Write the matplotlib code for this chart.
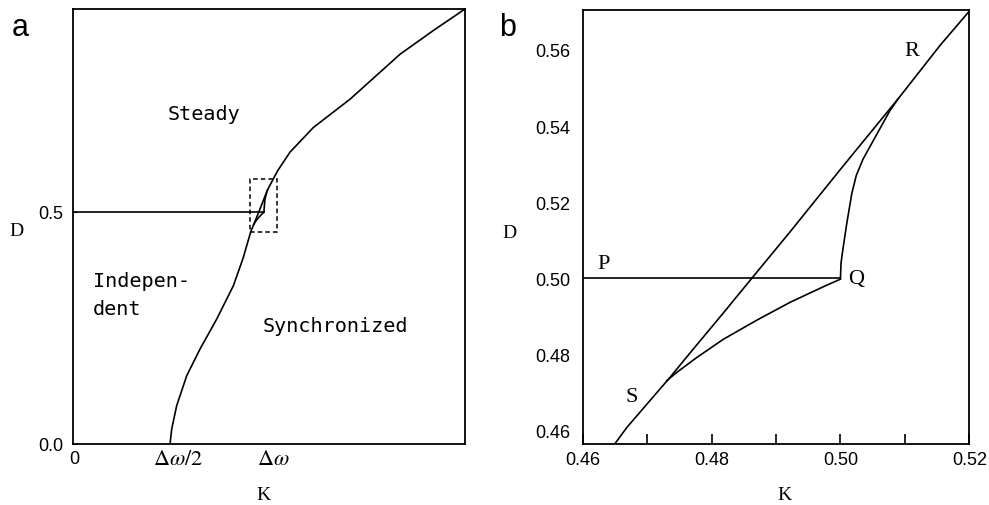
import numpy as np
import matplotlib
matplotlib.use('Agg')
import matplotlib.pyplot as plt
import matplotlib.transforms as mtransforms
from matplotlib.patches import Rectangle

plt.rcParams['mathtext.fontset'] = 'stix'

# ---- data ----
# boundary curve, lower part (panel a only)
k_low = [0.254, 0.2583, 0.2714, 0.2976, 0.3325, 0.376, 0.4197, 0.445]
d_low = [0.0, 0.032, 0.0826, 0.147, 0.2047, 0.269, 0.341, 0.400]

# boundary curve inside the zoomed window (both panels)
k_mid = [0.46475, 0.46683, 0.46993, 0.47355, 0.47665, 0.48182, 0.48623,
         0.49217, 0.49993, 0.50925, 0.51546, 0.52]
d_mid = [0.4560, 0.4608, 0.4669, 0.4740, 0.4804, 0.4909, 0.5000,
         0.5122, 0.5285, 0.5478, 0.5612, 0.5702]

# boundary curve, upper part (panel a only)
k_up = [0.535, 0.568, 0.629, 0.725, 0.856, 0.943, 1.026]
d_up = [0.588, 0.629, 0.682, 0.743, 0.840, 0.891, 0.9375]

# branch Q -> R
k_qr = [0.5000, 0.50009, 0.50035, 0.50097, 0.50175, 0.50245, 0.50350, 0.50510, 0.50769, 0.50898]
d_qr = [0.5000, 0.5040, 0.5073, 0.5143, 0.5222, 0.5270, 0.5313, 0.5362, 0.5441, 0.5472]

# branch Q -> S
k_qs = [0.5000, 0.49734, 0.49217, 0.48700, 0.48182, 0.47769, 0.47459, 0.47304]
d_qs = [0.4998, 0.4978, 0.4937, 0.4890, 0.4840, 0.4792, 0.4753, 0.4731]

# P-Q line
d_pq = 0.5
k_q = 0.5

# zoom window drawn on panel a
box_k = [0.463, 0.535]
box_d = [0.456, 0.570]

# tick labels
a_xticks = [0, 0.25, 0.5]
a_xlabels = ['0', r'$\Delta\omega/2$', r'$\Delta\omega$']
a_yticks = [0.0, 0.5]
b_xticks = [0.46, 0.48, 0.50, 0.52]
b_xminor = [0.47, 0.49, 0.51]
b_yticks = [0.46, 0.48, 0.50, 0.52, 0.54, 0.56]

# point labels in panel b
pt_names = ['P', 'Q', 'R', 'S']
pt_k = [0.4632, 0.5024, 0.5111, 0.4676]
pt_d = [0.5039, 0.4999, 0.5599, 0.4689]

serif = 'Liberation Serif'
sans = 'Liberation Sans'
mono = 'DejaVu Sans Mono'
lw = 1.2

fig = plt.figure(figsize=(9.89, 5.06), dpi=100)
ax1 = fig.add_axes([0.0738, 0.1206, 0.3964, 0.8597])
ax2 = fig.add_axes([0.5892, 0.1206, 0.3909, 0.8577])

for ax in (ax1, ax2):
    for s in ax.spines.values():
        s.set_linewidth(1.3)

# ---- panel a ----
k_all = k_low + k_mid[:-2] + k_up
d_all = d_low + d_mid[:-2] + d_up
ax1.plot(k_all, d_all, color='black', lw=lw)
ax1.plot([0, k_q], [d_pq, d_pq], color='black', lw=lw)
ax1.plot(k_qr, d_qr, color='black', lw=lw)
ax1.plot(k_qs, d_qs, color='black', lw=lw)
ax1.add_patch(Rectangle((box_k[0], box_d[0]), box_k[1] - box_k[0], box_d[1] - box_d[0],
                        fill=False, ls=(0, (3, 2)), lw=1.1, color='black'))
ax1.set_xlim(0, 1.026)
ax1.set_ylim(0, 0.9375)

ax1.set_xticks(a_xticks)
ax1.set_xticklabels(a_xlabels, fontsize=16, family=serif)
ax1.set_xticks([0.5], minor=True)
ax1.tick_params(axis='x', which='major', length=0, pad=4)
ax1.tick_params(axis='x', which='minor', direction='in', length=8, width=1.2)
# shift the delta labels slightly to the right like in the scan
for lab, dx in zip(ax1.get_xticklabels(), [1, 7, 7]):
    lab.set_transform(lab.get_transform() + mtransforms.ScaledTranslation(dx / 72, 0, fig.dpi_scale_trans))
ax1.get_xticklabels()[0].set_fontsize(13)
ax1.get_xticklabels()[0].set_family(sans)

ax1.set_yticks(a_yticks)
ax1.set_yticklabels(['0.0', '0.5'], fontsize=13, family=sans)
ax1.tick_params(axis='y', direction='in', length=3, pad=7)

ax1.set_xlabel('K', fontsize=14, family=serif, va='center')
ax1.xaxis.set_label_coords(0.487, -0.115)
ax1.set_ylabel('D', fontsize=14, family=serif, rotation=0, va='center', ha='center')
ax1.yaxis.set_label_coords(-0.143, 0.49)

ax1.text(0.2487, 0.700, 'Steady', fontsize=14.5, family=mono, va='baseline')
ax1.text(0.052, 0.3405, 'Indepen-', fontsize=14.5, family=mono, va='baseline')
ax1.text(0.052, 0.280, 'dent', fontsize=14.5, family=mono, va='baseline')
ax1.text(0.497, 0.244, 'Synchronized', fontsize=14.5, family=mono, va='baseline')

fig.text(20 / 989, 1 - 28 / 506, 'a', fontsize=22, family=sans, ha='center', va='center')

# ---- panel b ----
ax2.plot(k_mid, d_mid, color='black', lw=lw)
ax2.plot([0.46, k_q], [d_pq, d_pq], color='black', lw=lw)
ax2.plot(k_qr, d_qr, color='black', lw=lw)
ax2.plot(k_qs, d_qs, color='black', lw=lw)
ax2.set_xlim(0.46, 0.52)
ax2.set_ylim(0.4565, 0.5705)

ax2.set_xticks(b_xticks)
ax2.set_xticklabels(['%.2f' % v for v in b_xticks], fontsize=13, family=sans)
ax2.set_xticks(b_xminor, minor=True)
ax2.tick_params(axis='x', which='both', direction='in', length=7, width=1.2, pad=5)
ax2.set_yticks(b_yticks)
ax2.set_yticklabels(['%.2f' % v for v in b_yticks], fontsize=13, family=sans)
ax2.tick_params(axis='y', length=0, pad=9)

ax2.set_xlabel('K', fontsize=14, family=serif, va='center')
ax2.xaxis.set_label_coords(0.523, -0.117)
ax2.set_ylabel('D', fontsize=14, family=serif, rotation=0, va='center', ha='center')
ax2.yaxis.set_label_coords(-0.19, 0.488)

for name, k, d in zip(pt_names, pt_k, pt_d):
    ax2.text(k, d, name, fontsize=16, family=serif, ha='center', va='center')

fig.text(508 / 989, 1 - 28 / 506, 'b', fontsize=22, family=sans, ha='center', va='center')

fig.savefig('out.png', dpi=100)
